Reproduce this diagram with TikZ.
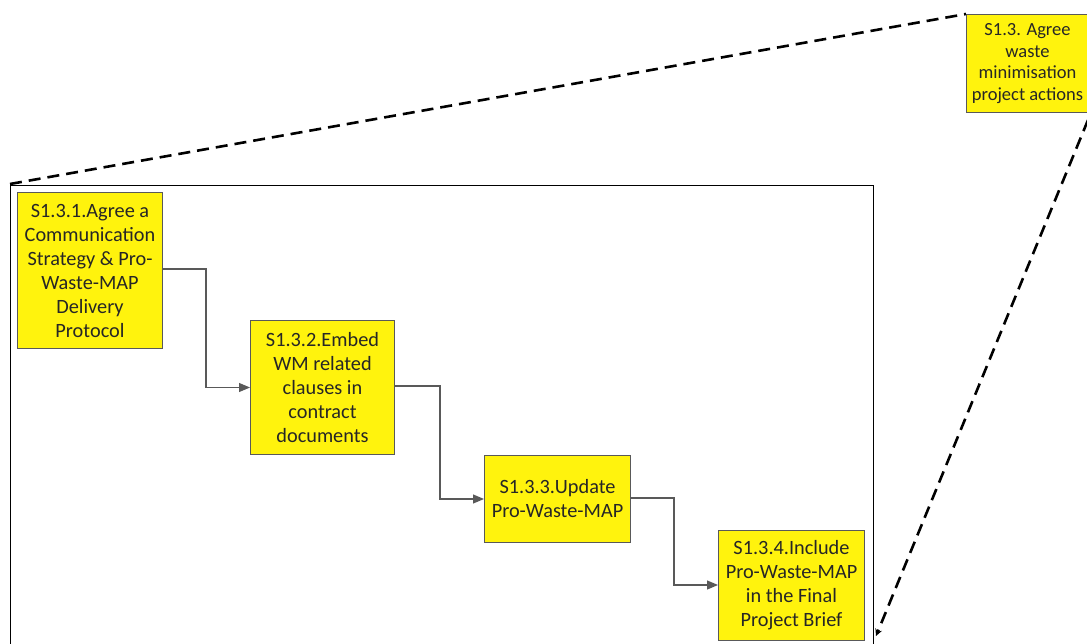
\documentclass[tikz,border=0pt]{standalone}
\usepackage{fontspec}
\setmainfont{Carlito}
\usetikzlibrary{arrows.meta}
\begin{document}
\begin{tikzpicture}[x=1pt,y=-1pt,
  stepbox/.style={draw=black!65,line width=1pt,fill=yellow!95!white,align=center,inner sep=0pt,
    font=\fontsize{20.3}{24}\selectfont,text=black!85},
  conn/.style={draw=black!65,line width=1.2pt,-{Triangle[length=11pt,width=9pt]}},
  dashline/.style={line width=2.6pt,dash pattern=on 12pt off 7pt}]
\useasboundingbox (0,0) rectangle (1087,644);
\node[stepbox,minimum width=122pt,minimum height=98pt,anchor=north west,font=\fontsize{18.5}{21.5}\selectfont] (top) at (966,14) {S1.3. Agree\\waste\\minimisation\\project actions};
\draw[black,line width=1pt] (10,186) -- (873,186) -- (873,650);
\draw[black,line width=1pt] (10,186) -- (10,650);
\node[stepbox,minimum width=145pt,minimum height=156pt,anchor=north west] (b1) at (17,192) {S1.3.1.Agree a\\Communication\\Strategy \& Pro-\\Waste-MAP\\Delivery\\Protocol};
\node[stepbox,minimum width=144pt,minimum height=134pt,anchor=north west] (b2) at (250,320) {S1.3.2.Embed\\WM related\\clauses in\\contract\\documents};
\node[stepbox,minimum width=146pt,minimum height=87pt,anchor=north west] (b3) at (484,455) {S1.3.3.Update\\Pro-Waste-MAP};
\node[stepbox,minimum width=146pt,minimum height=110pt,anchor=north west] (b4) at (718,530) {S1.3.4.Include\\Pro-Waste-MAP\\in the Final\\Project Brief};
\coordinate (c1) at (206,0);
\coordinate (c2) at (440,0);
\coordinate (c3) at (674,0);
\draw[conn] (b1.east |- 0,269) -| (c1 |- b2.west) -- (b2.west);
\draw[conn] (b2.east |- 0,386) -| (c2 |- b3.west) -- (b3.west);
\draw[conn] (b3.east |- 0,498) -| (c3 |- 0,585) -- (b4.west |- 0,585);
\coordinate (p1) at (10,184);
\coordinate (p2) at (1088,120);
\coordinate (p3) at (876,636);
\draw[dashline] (p1) -- (top.north west);
\draw[dashline,-{Stealth[length=7pt,width=7pt]}] (p2) -- (p3);
\end{tikzpicture}
\end{document}
